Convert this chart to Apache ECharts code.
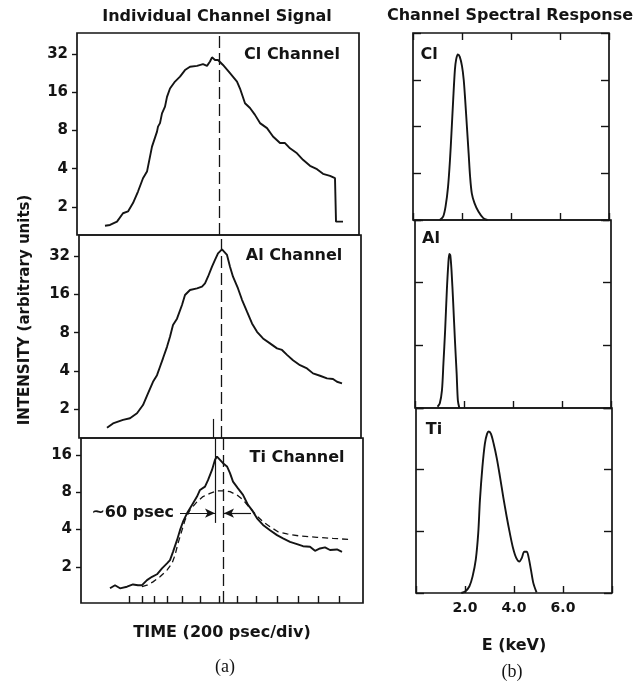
<!DOCTYPE html>
<html><head><meta charset="utf-8">
<script src="https://cdn.jsdelivr.net/npm/echarts@6/dist/echarts.min.js"></script>
<style>html,body{margin:0;padding:0;background:#fff}#c{width:644px;height:681px}</style>
</head><body><div id="c"></div>
<script>
// ---------- (a) Individual channel signal: time (arb. units) vs intensity ----------
const clTime = [28,33,40,46,51,56,61,66,70,75,77,80,81,83,85,88,90,93,98,103,108,113,120,126,130,133,135,138,141,146,153,160,163,168,173,178,183,190,196,203,208,213,220,226,233,240,246,253,258,259,266];
const clIntensity = [1.42,1.44,1.53,1.78,1.84,2.14,2.64,3.36,3.79,5.96,6.15,7.83,8.57,9.13,10.9,12.3,14.7,17.1,19.4,21.2,23.9,25.4,25.8,26.6,25.8,27.9,30.1,28.7,28.7,26.2,22.6,19.4,17.1,13.1,12.0,10.6,9.13,8.34,7.17,6.36,6.36,5.78,5.28,4.69,4.21,3.96,3.64,3.51,3.36,1.53,1.53];

const alTime = [28,34,39,44,51,58,64,69,74,78,81,84,88,91,94,98,103,106,111,118,123,126,129,133,136,139,143,145,148,151,154,159,163,168,173,178,184,191,198,203,208,214,221,228,234,241,248,254,258,263];
const alIntensity = [1.43,1.55,1.60,1.65,1.70,1.86,2.16,2.67,3.29,3.71,4.32,5.03,6.19,7.42,9.19,10.3,13.2,15.8,17.3,17.8,18.4,19.5,22.0,26.4,29.8,33.6,36.1,35.7,32.6,26.4,22.0,17.8,14.5,11.7,9.45,8.12,7.21,6.59,6.02,5.85,5.35,4.86,4.44,4.19,3.83,3.67,3.50,3.46,3.29,3.20];

const tiTime = [29,34,39,46,52,57,61,66,71,76,81,86,89,92,96,99,102,106,111,116,119,124,127,131,134,136,139,142,146,149,152,157,162,167,171,176,182,189,196,202,209,216,222,229,234,239,244,249,256,261];
const tiIntensity = [1.34,1.42,1.34,1.38,1.44,1.42,1.42,1.56,1.66,1.74,1.94,2.13,2.26,2.64,3.28,3.95,4.62,5.40,6.31,7.37,8.34,8.87,10.0,12.1,14.6,15.5,14.6,13.7,12.9,11.4,9.74,8.59,7.60,6.31,5.74,4.92,4.35,3.95,3.60,3.39,3.18,3.05,2.93,2.90,2.69,2.81,2.87,2.73,2.76,2.64];

const tiFitTime = [61,66,72,79,86,91,94,97,101,104,109,116,122,129,136,142,149,156,162,169,176,182,189,197,206,219,236,252,269];
const tiFitIntensity = [1.38,1.42,1.51,1.66,1.88,2.13,2.48,3.09,3.95,4.76,5.74,6.70,7.37,7.83,8.18,8.21,8.07,7.60,6.93,5.95,5.14,4.62,4.21,3.83,3.68,3.54,3.46,3.39,3.32];

const timeTicks = [48,61,73,86,101,119,138,156,175,196,217,237,258];
const intensityTicksClAl = [2,4,8,16,32];
const intensityTicksTi = [2,4,8,16];
const timeRange = [0,282];
const clRange = [1.2,46.8], alRange = [1.19,46.8], tiRange = [1.02,21.9];

const peakTime = 142;          // dashed reference line
const fwhmTime = 134;          // solid line at Ti peak
const fwhmLevel = 5.42;        // arrow level
const arrowStartLeft = 99, arrowStartRight = 170;
const fwhmLineBottomAl = 1.68, fwhmLineBottomTi = 4.52;

// ---------- (b) Channel spectral response: energy (keV) vs response ----------
const clEnergy = [1.09,1.23,1.33,1.43,1.51,1.57,1.64,1.71,1.76,1.83,1.91,2.00,2.07,2.13,2.20,2.27,2.33,2.40,2.51,2.67,2.87,3.04];
const clResponse = [0,0.07,0.29,0.71,1.29,1.86,2.57,3.21,3.43,3.54,3.49,3.29,3.0,2.57,2.0,1.43,0.93,0.57,0.36,0.18,0.04,0];
const alEnergy = [0.92,1.01,1.10,1.16,1.23,1.30,1.36,1.40,1.44,1.49,1.56,1.63,1.70,1.75,1.81];
const alResponse = [0.02,0.07,0.28,0.71,1.24,1.88,2.30,2.46,2.44,2.20,1.67,1.08,0.55,0.12,0];
const tiEnergy = [1.85,2.02,2.18,2.31,2.44,2.54,2.61,2.71,2.81,2.90,2.97,3.06,3.17,3.30,3.43,3.56,3.70,3.83,3.96,4.09,4.22,4.32,4.42,4.52,4.59,4.69,4.79,4.92];
const tiResponse = [0,0.03,0.11,0.27,0.54,0.97,1.51,2.04,2.42,2.58,2.62,2.58,2.42,2.18,1.88,1.56,1.24,0.97,0.73,0.57,0.51,0.57,0.67,0.67,0.59,0.38,0.16,0.01];
const energyRange = [0,8];
const energyInterval = 2;

// ---------- styles ----------
const INK = '#141414';
const BF = '"DejaVu Sans", sans-serif';
const pair = (xs, ys) => xs.map((x, i) => [x, ys[i]]);
const gridStyle = { show: true, borderColor: INK, borderWidth: 1.7, backgroundColor: 'transparent', containLabel: false };

const grids = [
  Object.assign({ left: 77, top: 33, width: 282, height: 202 }, gridStyle),
  Object.assign({ left: 79, top: 235, width: 282, height: 203 }, gridStyle),
  Object.assign({ left: 81, top: 438, width: 282, height: 165 }, gridStyle),
  Object.assign({ left: 413, top: 33, width: 196, height: 187 }, gridStyle),
  Object.assign({ left: 415, top: 220, width: 196, height: 188 }, gridStyle),
  Object.assign({ left: 416, top: 408, width: 196, height: 185 }, gridStyle)
];

function timeAxis(g, extra) {
  return Object.assign({ type: 'value', gridIndex: g, min: timeRange[0], max: timeRange[1],
    axisLine: { show: false, onZero: false }, axisTick: { show: false }, axisLabel: { show: false }, splitLine: { show: false } }, extra || {});
}
function logAxis(g, range, ticks) {
  return { type: 'log', logBase: 2, gridIndex: g, min: range[0], max: range[1],
    axisLine: { show: false, onZero: false }, splitLine: { show: false }, minorTick: { show: false },
    axisTick: { show: true, inside: false, length: 5, customValues: ticks, lineStyle: { color: INK, width: 1.4 } },
    axisLabel: { show: true, customValues: ticks, margin: 9, color: INK, fontFamily: BF, fontWeight: 'bold', fontSize: 15 } };
}
function energyAxis(g, pos, labels) {
  return { type: 'value', gridIndex: g, position: pos, min: energyRange[0], max: energyRange[1], interval: energyInterval,
    axisLine: { show: false, onZero: false }, splitLine: { show: false },
    axisTick: { show: true, inside: true, length: 7, lineStyle: { color: INK, width: 1.4 } },
    axisLabel: labels ? { show: true, margin: 8, color: INK, fontFamily: BF, fontWeight: 'bold', fontSize: 14,
      formatter: v => (v === energyRange[0] || v === energyRange[1]) ? '' : v.toFixed(1) } : { show: false },
    name: labels ? 'E (keV)' : '', nameLocation: 'middle', nameGap: 45,
    nameTextStyle: { color: INK, fontFamily: BF, fontWeight: 'bold', fontSize: 16 } };
}
function respAxis(g, pos, max) {
  return { type: 'value', gridIndex: g, position: pos, min: 0, max: max, interval: 1,
    axisLine: { show: false, onZero: false }, splitLine: { show: false }, axisLabel: { show: false },
    axisTick: { show: true, inside: true, length: 8, lineStyle: { color: INK, width: 1.4 } } };
}

const xAxes = [
  timeAxis(0), timeAxis(1),
  timeAxis(2, { axisTick: { show: true, inside: true, length: 7, customValues: timeTicks, lineStyle: { color: INK, width: 1.4 } },
    name: 'TIME (200 psec/div)', nameLocation: 'middle', nameGap: 22,
    nameTextStyle: { color: INK, fontFamily: BF, fontWeight: 'bold', fontSize: 16, verticalAlign: 'top' } }),
  energyAxis(3, 'bottom', false), energyAxis(3, 'top', false),
  energyAxis(4, 'bottom', false), energyAxis(5, 'bottom', true)
];
const yAxes = [
  logAxis(0, clRange, intensityTicksClAl), logAxis(1, alRange, intensityTicksClAl), logAxis(2, tiRange, intensityTicksTi),
  respAxis(3, 'left', 4), respAxis(3, 'right', 4),
  respAxis(4, 'left', 3), respAxis(4, 'right', 3),
  respAxis(5, 'left', 3), respAxis(5, 'right', 3)
];

const solid = { color: INK, width: 1.9 };
const dashRef = { color: INK, width: 1.3, type: [12, 5] };
const thin = { color: INK, width: 1.2, type: 'solid' };
function lineSeries(xi, yi, data, style) {
  return { type: 'line', xAxisIndex: xi, yAxisIndex: yi, data: data, showSymbol: false, symbol: 'none',
    lineStyle: style, silent: true, animation: false, z: 3 };
}

const clSeries = lineSeries(0, 0, pair(clTime, clIntensity), solid);
clSeries.markLine = { silent: true, symbol: 'none', animation: false, label: { show: false }, lineStyle: dashRef,
  data: [{ xAxis: peakTime }] };
const alSeries = lineSeries(1, 1, pair(alTime, alIntensity), solid);
alSeries.markLine = { silent: true, symbol: 'none', animation: false, label: { show: false }, lineStyle: dashRef,
  data: [{ xAxis: peakTime },
    [{ coord: [fwhmTime, fwhmLineBottomAl], lineStyle: thin }, { coord: [fwhmTime, alRange[0]] }]] };
const tiSeries = lineSeries(2, 2, pair(tiTime, tiIntensity), solid);
tiSeries.markLine = { silent: true, symbol: 'none', animation: false, label: { show: false }, lineStyle: dashRef,
  symbolSize: [7, 10],
  data: [{ xAxis: peakTime },
    [{ coord: [fwhmTime, tiRange[1]], lineStyle: thin }, { coord: [fwhmTime, fwhmLineBottomTi] }],
    [{ coord: [arrowStartLeft, fwhmLevel], symbol: 'none', lineStyle: thin,
       label: { show: true, position: 'start', formatter: '~60 psec', color: INK, fontFamily: BF, fontWeight: 'bold', fontSize: 16, distance: 6 } },
     { coord: [fwhmTime, fwhmLevel], symbol: 'arrow' }],
    [{ coord: [arrowStartRight, fwhmLevel], symbol: 'none', lineStyle: thin }, { coord: [peakTime + 1, fwhmLevel], symbol: 'arrow' }]
  ] };
const tiFitSeries = lineSeries(2, 2, pair(tiFitTime, tiFitIntensity), { color: INK, width: 1.3, type: [6, 4] });

const series = [
  clSeries, alSeries, tiSeries, tiFitSeries,
  lineSeries(3, 3, pair(clEnergy, clResponse), solid),
  lineSeries(5, 5, pair(alEnergy, alResponse), solid),
  lineSeries(6, 7, pair(tiEnergy, tiResponse), solid)
];
series[4].smooth = 0.3; series[5].smooth = 0.3; series[6].smooth = 0.3;

function txt(x, y, text, size, opts) {
  return Object.assign({ type: 'text', x: x, y: y, silent: true,
    style: { text: text, font: 'bold ' + size + 'px ' + BF, fill: INK, textAlign: 'center', textVerticalAlign: 'middle' } }, opts || {});
}
const graphics = [
  txt(217, 17, 'Individual Channel Signal', 16),
  txt(510, 16, 'Channel Spectral Response', 16),
  txt(292, 55, 'Cl Channel', 16),
  txt(294, 256, 'Al Channel', 16),
  txt(297, 458, 'Ti Channel', 16),
  txt(429, 55, 'Cl', 16),
  txt(431, 239, 'Al', 16),
  txt(434, 430, 'Ti', 16),
  txt(25, 310, 'INTENSITY (arbitrary units)', 15, { rotation: Math.PI / 2 }),
  { type: 'text', x: 225, y: 667, silent: true, style: { text: '(a)', font: '18px "Liberation Serif", serif', fill: INK, textAlign: 'center', textVerticalAlign: 'middle' } },
  { type: 'text', x: 512, y: 672, silent: true, style: { text: '(b)', font: '18px "Liberation Serif", serif', fill: INK, textAlign: 'center', textVerticalAlign: 'middle' } }
];

const chart = echarts.init(document.getElementById('c'), null, { renderer: 'canvas' });
chart.setOption({
  backgroundColor: '#ffffff',
  animation: false,
  grid: grids,
  xAxis: xAxes,
  yAxis: yAxes,
  series: series,
  graphic: graphics
});
</script></body></html>
